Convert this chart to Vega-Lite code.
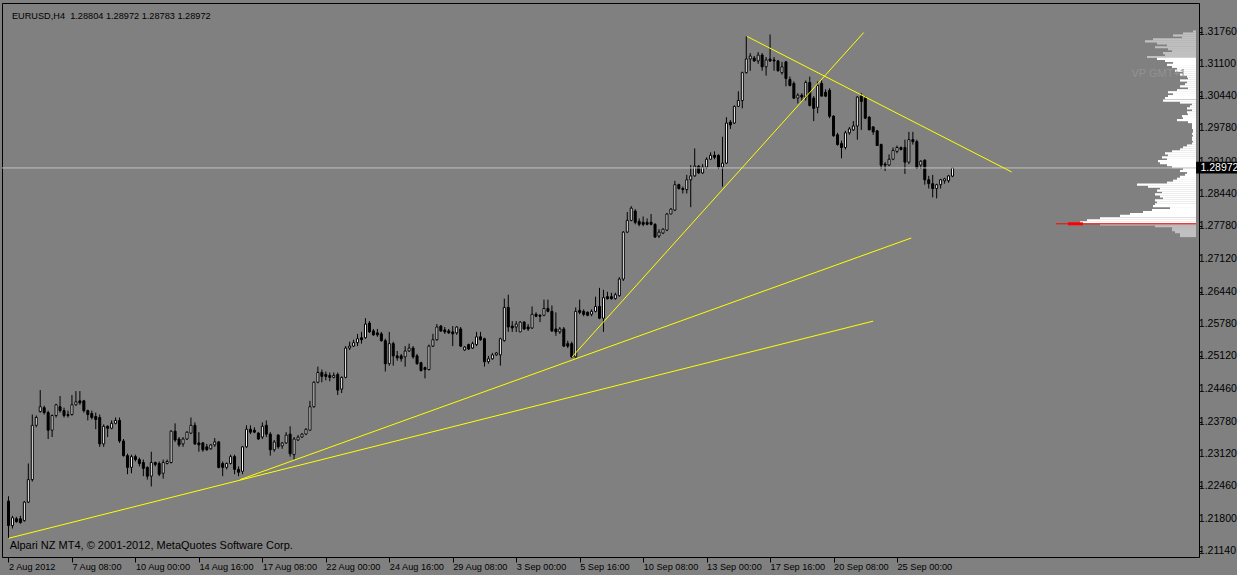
{
"$schema": "https://vega.github.io/schema/vega-lite/v6.json",
"width": 1197,
"height": 554,
"autosize": {"type": "none"},
"padding": {"left": 2, "top": 3, "right": 38, "bottom": 18},
"background": "#808080",
"config": {
  "view": {"stroke": "#000000", "strokeWidth": 1, "fill": "#808080"},
  "font": "Liberation Sans",
  "axis": {"domain": false, "grid": false, "tickColor": "#000000", "labelColor": "#000000", "labelFont": "Liberation Sans", "title": null, "labelOverlap": false, "labelFlush": false, "labelBound": false},
  "axisX": {"labelOverlap": false, "labelFontSize": 9.2}
},
"datasets": {
  "candles": [
{"t":0,"o":1.2216,"h":1.2226,"l":1.2140,"c":1.2166},
{"t":1,"o":1.2166,"h":1.2186,"l":1.2160,"c":1.2182},
{"t":2,"o":1.2180,"h":1.2184,"l":1.2172,"c":1.2174},
{"t":3,"o":1.2180,"h":1.2186,"l":1.2170,"c":1.2172},
{"t":4,"o":1.2176,"h":1.2216,"l":1.2174,"c":1.2214},
{"t":5,"o":1.2214,"h":1.2293,"l":1.2212,"c":1.2260},
{"t":6,"o":1.2260,"h":1.2393,"l":1.2256,"c":1.2371},
{"t":7,"o":1.2371,"h":1.2391,"l":1.2367,"c":1.2387},
{"t":8,"o":1.2399,"h":1.2443,"l":1.2397,"c":1.2409},
{"t":9,"o":1.2407,"h":1.2411,"l":1.2393,"c":1.2397},
{"t":10,"o":1.2397,"h":1.2401,"l":1.2343,"c":1.2361},
{"t":11,"o":1.2361,"h":1.2393,"l":1.2347,"c":1.2391},
{"t":12,"o":1.2391,"h":1.2415,"l":1.2387,"c":1.2413},
{"t":13,"o":1.2409,"h":1.2431,"l":1.2397,"c":1.2401},
{"t":14,"o":1.2401,"h":1.2407,"l":1.2387,"c":1.2391},
{"t":15,"o":1.2393,"h":1.2401,"l":1.2387,"c":1.2391},
{"t":16,"o":1.2393,"h":1.2433,"l":1.2391,"c":1.2413},
{"t":17,"o":1.2413,"h":1.2441,"l":1.2411,"c":1.2419},
{"t":18,"o":1.2421,"h":1.2441,"l":1.2413,"c":1.2417},
{"t":19,"o":1.2421,"h":1.2423,"l":1.2397,"c":1.2401},
{"t":20,"o":1.2401,"h":1.2403,"l":1.2381,"c":1.2393},
{"t":21,"o":1.2395,"h":1.2401,"l":1.2383,"c":1.2387},
{"t":22,"o":1.2389,"h":1.2397,"l":1.2363,"c":1.2383},
{"t":23,"o":1.2387,"h":1.2393,"l":1.2327,"c":1.2333},
{"t":24,"o":1.2333,"h":1.2373,"l":1.2327,"c":1.2369},
{"t":25,"o":1.2369,"h":1.2371,"l":1.2347,"c":1.2365},
{"t":26,"o":1.2365,"h":1.2381,"l":1.2363,"c":1.2375},
{"t":27,"o":1.2375,"h":1.2387,"l":1.2373,"c":1.2381},
{"t":28,"o":1.2381,"h":1.2387,"l":1.2335,"c":1.2339},
{"t":29,"o":1.2339,"h":1.2343,"l":1.2307,"c":1.2309},
{"t":30,"o":1.2309,"h":1.2313,"l":1.2271,"c":1.2285},
{"t":31,"o":1.2285,"h":1.2311,"l":1.2273,"c":1.2307},
{"t":32,"o":1.2307,"h":1.2311,"l":1.2297,"c":1.2301},
{"t":33,"o":1.2301,"h":1.2305,"l":1.2287,"c":1.2293},
{"t":34,"o":1.2295,"h":1.2301,"l":1.2267,"c":1.2283},
{"t":35,"o":1.2285,"h":1.2287,"l":1.2260,"c":1.2267},
{"t":36,"o":1.2267,"h":1.2317,"l":1.2246,"c":1.2295},
{"t":37,"o":1.2295,"h":1.2297,"l":1.2287,"c":1.2291},
{"t":38,"o":1.2293,"h":1.2297,"l":1.2267,"c":1.2271},
{"t":39,"o":1.2273,"h":1.2301,"l":1.2262,"c":1.2295},
{"t":40,"o":1.2293,"h":1.2301,"l":1.2291,"c":1.2297},
{"t":41,"o":1.2295,"h":1.2361,"l":1.2293,"c":1.2359},
{"t":42,"o":1.2359,"h":1.2375,"l":1.2337,"c":1.2341},
{"t":43,"o":1.2343,"h":1.2347,"l":1.2327,"c":1.2331},
{"t":44,"o":1.2333,"h":1.2347,"l":1.2327,"c":1.2343},
{"t":45,"o":1.2343,"h":1.2359,"l":1.2341,"c":1.2357},
{"t":46,"o":1.2355,"h":1.2387,"l":1.2353,"c":1.2371},
{"t":47,"o":1.2371,"h":1.2377,"l":1.2331,"c":1.2333},
{"t":48,"o":1.2335,"h":1.2357,"l":1.2317,"c":1.2331},
{"t":49,"o":1.2335,"h":1.2337,"l":1.2317,"c":1.2321},
{"t":50,"o":1.2327,"h":1.2333,"l":1.2319,"c":1.2321},
{"t":51,"o":1.2323,"h":1.2333,"l":1.2321,"c":1.2331},
{"t":52,"o":1.2331,"h":1.2345,"l":1.2327,"c":1.2337},
{"t":53,"o":1.2337,"h":1.2339,"l":1.2283,"c":1.2285},
{"t":54,"o":1.2293,"h":1.2297,"l":1.2267,"c":1.2285},
{"t":55,"o":1.2285,"h":1.2295,"l":1.2281,"c":1.2293},
{"t":56,"o":1.2293,"h":1.2311,"l":1.2291,"c":1.2307},
{"t":57,"o":1.2307,"h":1.2311,"l":1.2271,"c":1.2281},
{"t":58,"o":1.2281,"h":1.2287,"l":1.2267,"c":1.2275},
{"t":59,"o":1.2277,"h":1.2329,"l":1.2271,"c":1.2327},
{"t":60,"o":1.2327,"h":1.2371,"l":1.2325,"c":1.2363},
{"t":61,"o":1.2363,"h":1.2371,"l":1.2353,"c":1.2357},
{"t":62,"o":1.2361,"h":1.2367,"l":1.2355,"c":1.2357},
{"t":63,"o":1.2355,"h":1.2357,"l":1.2341,"c":1.2343},
{"t":64,"o":1.2347,"h":1.2377,"l":1.2343,"c":1.2369},
{"t":65,"o":1.2371,"h":1.2381,"l":1.2347,"c":1.2353},
{"t":66,"o":1.2353,"h":1.2357,"l":1.2309,"c":1.2321},
{"t":67,"o":1.2321,"h":1.2341,"l":1.2317,"c":1.2337},
{"t":68,"o":1.2351,"h":1.2353,"l":1.2323,"c":1.2327},
{"t":69,"o":1.2329,"h":1.2337,"l":1.2323,"c":1.2335},
{"t":70,"o":1.2335,"h":1.2357,"l":1.2333,"c":1.2351},
{"t":71,"o":1.2353,"h":1.2369,"l":1.2307,"c":1.2313},
{"t":72,"o":1.2311,"h":1.2347,"l":1.2301,"c":1.2343},
{"t":73,"o":1.2341,"h":1.2351,"l":1.2339,"c":1.2347},
{"t":74,"o":1.2347,"h":1.2355,"l":1.2345,"c":1.2353},
{"t":75,"o":1.2353,"h":1.2365,"l":1.2351,"c":1.2363},
{"t":76,"o":1.2361,"h":1.2421,"l":1.2361,"c":1.2409},
{"t":77,"o":1.2409,"h":1.2461,"l":1.2407,"c":1.2459},
{"t":78,"o":1.2459,"h":1.2491,"l":1.2457,"c":1.2479},
{"t":79,"o":1.2479,"h":1.2485,"l":1.2459,"c":1.2471},
{"t":80,"o":1.2475,"h":1.2481,"l":1.2463,"c":1.2471},
{"t":81,"o":1.2473,"h":1.2479,"l":1.2461,"c":1.2469},
{"t":82,"o":1.2469,"h":1.2479,"l":1.2467,"c":1.2473},
{"t":83,"o":1.2475,"h":1.2479,"l":1.2433,"c":1.2443},
{"t":84,"o":1.2445,"h":1.2471,"l":1.2437,"c":1.2469},
{"t":85,"o":1.2469,"h":1.2533,"l":1.2467,"c":1.2529},
{"t":86,"o":1.2529,"h":1.2542,"l":1.2525,"c":1.2533},
{"t":87,"o":1.2533,"h":1.2546,"l":1.2531,"c":1.2540},
{"t":88,"o":1.2540,"h":1.2558,"l":1.2533,"c":1.2548},
{"t":89,"o":1.2550,"h":1.2562,"l":1.2538,"c":1.2546},
{"t":90,"o":1.2550,"h":1.2590,"l":1.2548,"c":1.2578},
{"t":91,"o":1.2580,"h":1.2584,"l":1.2560,"c":1.2562},
{"t":92,"o":1.2564,"h":1.2568,"l":1.2554,"c":1.2556},
{"t":93,"o":1.2560,"h":1.2568,"l":1.2552,"c":1.2556},
{"t":94,"o":1.2558,"h":1.2562,"l":1.2542,"c":1.2544},
{"t":95,"o":1.2544,"h":1.2548,"l":1.2481,"c":1.2497},
{"t":96,"o":1.2497,"h":1.2562,"l":1.2493,"c":1.2538},
{"t":97,"o":1.2538,"h":1.2542,"l":1.2493,"c":1.2513},
{"t":98,"o":1.2513,"h":1.2523,"l":1.2503,"c":1.2509},
{"t":99,"o":1.2513,"h":1.2517,"l":1.2501,"c":1.2507},
{"t":100,"o":1.2511,"h":1.2533,"l":1.2491,"c":1.2523},
{"t":101,"o":1.2523,"h":1.2538,"l":1.2521,"c":1.2529},
{"t":102,"o":1.2529,"h":1.2533,"l":1.2507,"c":1.2511},
{"t":103,"o":1.2513,"h":1.2517,"l":1.2495,"c":1.2497},
{"t":104,"o":1.2499,"h":1.2501,"l":1.2481,"c":1.2483},
{"t":105,"o":1.2489,"h":1.2491,"l":1.2467,"c":1.2485},
{"t":106,"o":1.2485,"h":1.2536,"l":1.2483,"c":1.2533},
{"t":107,"o":1.2533,"h":1.2558,"l":1.2531,"c":1.2546},
{"t":108,"o":1.2546,"h":1.2578,"l":1.2544,"c":1.2572},
{"t":109,"o":1.2574,"h":1.2576,"l":1.2562,"c":1.2564},
{"t":110,"o":1.2566,"h":1.2572,"l":1.2558,"c":1.2562},
{"t":111,"o":1.2564,"h":1.2568,"l":1.2558,"c":1.2560},
{"t":112,"o":1.2562,"h":1.2574,"l":1.2533,"c":1.2558},
{"t":113,"o":1.2560,"h":1.2574,"l":1.2556,"c":1.2572},
{"t":114,"o":1.2568,"h":1.2572,"l":1.2531,"c":1.2533},
{"t":115,"o":1.2525,"h":1.2533,"l":1.2523,"c":1.2531},
{"t":116,"o":1.2536,"h":1.2538,"l":1.2525,"c":1.2527},
{"t":117,"o":1.2529,"h":1.2542,"l":1.2527,"c":1.2538},
{"t":118,"o":1.2536,"h":1.2562,"l":1.2533,"c":1.2552},
{"t":119,"o":1.2552,"h":1.2562,"l":1.2544,"c":1.2546},
{"t":120,"o":1.2548,"h":1.2550,"l":1.2491,"c":1.2501},
{"t":121,"o":1.2501,"h":1.2513,"l":1.2497,"c":1.2507},
{"t":122,"o":1.2507,"h":1.2519,"l":1.2505,"c":1.2515},
{"t":123,"o":1.2515,"h":1.2521,"l":1.2513,"c":1.2519},
{"t":124,"o":1.2515,"h":1.2550,"l":1.2493,"c":1.2548},
{"t":125,"o":1.2544,"h":1.2630,"l":1.2542,"c":1.2612},
{"t":126,"o":1.2612,"h":1.2638,"l":1.2562,"c":1.2572},
{"t":127,"o":1.2574,"h":1.2584,"l":1.2562,"c":1.2570},
{"t":128,"o":1.2572,"h":1.2584,"l":1.2562,"c":1.2578},
{"t":129,"o":1.2562,"h":1.2584,"l":1.2562,"c":1.2582},
{"t":130,"o":1.2582,"h":1.2584,"l":1.2566,"c":1.2568},
{"t":131,"o":1.2572,"h":1.2578,"l":1.2564,"c":1.2568},
{"t":132,"o":1.2570,"h":1.2614,"l":1.2568,"c":1.2598},
{"t":133,"o":1.2598,"h":1.2602,"l":1.2592,"c":1.2594},
{"t":134,"o":1.2596,"h":1.2598,"l":1.2582,"c":1.2594},
{"t":135,"o":1.2596,"h":1.2628,"l":1.2594,"c":1.2610},
{"t":136,"o":1.2610,"h":1.2628,"l":1.2602,"c":1.2604},
{"t":137,"o":1.2604,"h":1.2616,"l":1.2562,"c":1.2564},
{"t":138,"o":1.2568,"h":1.2602,"l":1.2554,"c":1.2562},
{"t":139,"o":1.2562,"h":1.2572,"l":1.2558,"c":1.2568},
{"t":140,"o":1.2568,"h":1.2572,"l":1.2531,"c":1.2533},
{"t":141,"o":1.2538,"h":1.2544,"l":1.2529,"c":1.2533},
{"t":142,"o":1.2538,"h":1.2542,"l":1.2509,"c":1.2511},
{"t":143,"o":1.2511,"h":1.2612,"l":1.2509,"c":1.2604},
{"t":144,"o":1.2606,"h":1.2628,"l":1.2598,"c":1.2602},
{"t":145,"o":1.2604,"h":1.2608,"l":1.2594,"c":1.2598},
{"t":146,"o":1.2602,"h":1.2604,"l":1.2594,"c":1.2596},
{"t":147,"o":1.2598,"h":1.2608,"l":1.2594,"c":1.2604},
{"t":148,"o":1.2604,"h":1.2634,"l":1.2602,"c":1.2614},
{"t":149,"o":1.2614,"h":1.2652,"l":1.2588,"c":1.2590},
{"t":150,"o":1.2590,"h":1.2648,"l":1.2562,"c":1.2632},
{"t":151,"o":1.2634,"h":1.2644,"l":1.2628,"c":1.2630},
{"t":152,"o":1.2634,"h":1.2642,"l":1.2628,"c":1.2630},
{"t":153,"o":1.2630,"h":1.2642,"l":1.2628,"c":1.2638},
{"t":154,"o":1.2636,"h":1.2674,"l":1.2634,"c":1.2670},
{"t":155,"o":1.2670,"h":1.2768,"l":1.2666,"c":1.2766},
{"t":156,"o":1.2766,"h":1.2807,"l":1.2764,"c":1.2790},
{"t":157,"o":1.2790,"h":1.2819,"l":1.2788,"c":1.2815},
{"t":158,"o":1.2809,"h":1.2813,"l":1.2782,"c":1.2786},
{"t":159,"o":1.2788,"h":1.2794,"l":1.2778,"c":1.2782},
{"t":160,"o":1.2786,"h":1.2798,"l":1.2778,"c":1.2782},
{"t":161,"o":1.2786,"h":1.2794,"l":1.2780,"c":1.2782},
{"t":162,"o":1.2786,"h":1.2803,"l":1.2780,"c":1.2782},
{"t":163,"o":1.2782,"h":1.2784,"l":1.2754,"c":1.2756},
{"t":164,"o":1.2758,"h":1.2772,"l":1.2754,"c":1.2766},
{"t":165,"o":1.2764,"h":1.2774,"l":1.2762,"c":1.2772},
{"t":166,"o":1.2770,"h":1.2805,"l":1.2768,"c":1.2803},
{"t":167,"o":1.2803,"h":1.2815,"l":1.2803,"c":1.2813},
{"t":168,"o":1.2811,"h":1.2871,"l":1.2809,"c":1.2863},
{"t":169,"o":1.2863,"h":1.2865,"l":1.2853,"c":1.2855},
{"t":170,"o":1.2855,"h":1.2859,"l":1.2845,"c":1.2853},
{"t":171,"o":1.2853,"h":1.2883,"l":1.2845,"c":1.2873},
{"t":172,"o":1.2873,"h":1.2903,"l":1.2817,"c":1.2881},
{"t":173,"o":1.2881,"h":1.2937,"l":1.2879,"c":1.2901},
{"t":174,"o":1.2901,"h":1.2903,"l":1.2885,"c":1.2887},
{"t":175,"o":1.2887,"h":1.2905,"l":1.2885,"c":1.2899},
{"t":176,"o":1.2899,"h":1.2919,"l":1.2895,"c":1.2915},
{"t":177,"o":1.2915,"h":1.2929,"l":1.2915,"c":1.2923},
{"t":178,"o":1.2923,"h":1.2931,"l":1.2915,"c":1.2919},
{"t":179,"o":1.2923,"h":1.2925,"l":1.2895,"c":1.2899},
{"t":180,"o":1.2899,"h":1.2961,"l":1.2859,"c":1.2907},
{"t":181,"o":1.2907,"h":1.3001,"l":1.2905,"c":1.2989},
{"t":182,"o":1.2991,"h":1.2995,"l":1.2977,"c":1.2985},
{"t":183,"o":1.2989,"h":1.3025,"l":1.2987,"c":1.3023},
{"t":184,"o":1.3023,"h":1.3054,"l":1.3023,"c":1.3035},
{"t":185,"o":1.3035,"h":1.3094,"l":1.3019,"c":1.3092},
{"t":186,"o":1.3092,"h":1.3166,"l":1.3090,"c":1.3120},
{"t":187,"o":1.3120,"h":1.3132,"l":1.3096,"c":1.3126},
{"t":188,"o":1.3122,"h":1.3126,"l":1.3114,"c":1.3116},
{"t":189,"o":1.3116,"h":1.3134,"l":1.3110,"c":1.3128},
{"t":190,"o":1.3128,"h":1.3132,"l":1.3096,"c":1.3104},
{"t":191,"o":1.3104,"h":1.3124,"l":1.3086,"c":1.3118},
{"t":192,"o":1.3120,"h":1.3170,"l":1.3114,"c":1.3116},
{"t":193,"o":1.3118,"h":1.3124,"l":1.3096,"c":1.3116},
{"t":194,"o":1.3116,"h":1.3118,"l":1.3094,"c":1.3096},
{"t":195,"o":1.3092,"h":1.3114,"l":1.3088,"c":1.3104},
{"t":196,"o":1.3114,"h":1.3116,"l":1.3064,"c":1.3080},
{"t":197,"o":1.3078,"h":1.3084,"l":1.3064,"c":1.3066},
{"t":198,"o":1.3070,"h":1.3074,"l":1.3038,"c":1.3040},
{"t":199,"o":1.3040,"h":1.3050,"l":1.3029,"c":1.3046},
{"t":200,"o":1.3046,"h":1.3050,"l":1.3035,"c":1.3042},
{"t":201,"o":1.3042,"h":1.3076,"l":1.3035,"c":1.3072},
{"t":202,"o":1.3072,"h":1.3084,"l":1.3023,"c":1.3025},
{"t":203,"o":1.3040,"h":1.3044,"l":1.2993,"c":1.3019},
{"t":204,"o":1.3021,"h":1.3074,"l":1.3009,"c":1.3066},
{"t":205,"o":1.3070,"h":1.3076,"l":1.3044,"c":1.3044},
{"t":206,"o":1.3052,"h":1.3058,"l":1.3042,"c":1.3044},
{"t":207,"o":1.3056,"h":1.3060,"l":1.2999,"c":1.3003},
{"t":208,"o":1.3003,"h":1.3005,"l":1.2961,"c":1.2963},
{"t":209,"o":1.2965,"h":1.2969,"l":1.2943,"c":1.2945},
{"t":210,"o":1.2947,"h":1.2953,"l":1.2917,"c":1.2939},
{"t":211,"o":1.2939,"h":1.2973,"l":1.2935,"c":1.2969},
{"t":212,"o":1.2969,"h":1.2981,"l":1.2965,"c":1.2977},
{"t":213,"o":1.2975,"h":1.2993,"l":1.2973,"c":1.2983},
{"t":214,"o":1.2983,"h":1.3044,"l":1.2955,"c":1.3042},
{"t":215,"o":1.3044,"h":1.3050,"l":1.2975,"c":1.3033},
{"t":216,"o":1.3040,"h":1.3044,"l":1.2997,"c":1.2999},
{"t":217,"o":1.3001,"h":1.3003,"l":1.2975,"c":1.2975},
{"t":218,"o":1.2981,"h":1.2983,"l":1.2965,"c":1.2971},
{"t":219,"o":1.2973,"h":1.2975,"l":1.2943,"c":1.2943},
{"t":220,"o":1.2945,"h":1.2947,"l":1.2895,"c":1.2903},
{"t":221,"o":1.2905,"h":1.2909,"l":1.2891,"c":1.2903},
{"t":222,"o":1.2903,"h":1.2925,"l":1.2901,"c":1.2915},
{"t":223,"o":1.2915,"h":1.2939,"l":1.2913,"c":1.2933},
{"t":224,"o":1.2931,"h":1.2943,"l":1.2927,"c":1.2939},
{"t":225,"o":1.2939,"h":1.2941,"l":1.2933,"c":1.2935},
{"t":226,"o":1.2939,"h":1.2955,"l":1.2885,"c":1.2909},
{"t":227,"o":1.2909,"h":1.2971,"l":1.2905,"c":1.2955},
{"t":228,"o":1.2955,"h":1.2971,"l":1.2945,"c":1.2951},
{"t":229,"o":1.2951,"h":1.2955,"l":1.2895,"c":1.2897},
{"t":230,"o":1.2903,"h":1.2913,"l":1.2895,"c":1.2911},
{"t":231,"o":1.2913,"h":1.2915,"l":1.2863,"c":1.2873},
{"t":232,"o":1.2873,"h":1.2881,"l":1.2855,"c":1.2865},
{"t":233,"o":1.2865,"h":1.2883,"l":1.2837,"c":1.2855},
{"t":234,"o":1.2855,"h":1.2865,"l":1.2835,"c":1.2863},
{"t":235,"o":1.2863,"h":1.2875,"l":1.2855,"c":1.2873},
{"t":236,"o":1.2871,"h":1.2877,"l":1.2865,"c":1.2875},
{"t":237,"o":1.2871,"h":1.2883,"l":1.2867,"c":1.2881},
{"t":238,"o":1.28804,"h":1.28972,"l":1.28783,"c":1.28972}
  ],
  "trend": [
    {"g":"a","t":0,"p":1.2140},{"g":"a","t":218,"p":1.2584},
    {"g":"b","t":58.4,"p":1.2260},{"g":"b","t":227.6,"p":1.2754},
    {"g":"c","t":142.1,"p":1.2511},{"g":"c","t":215.6,"p":1.3174},
    {"g":"d","t":186.2,"p":1.3166},{"g":"d","t":252.9,"p":1.2889}
  ],
  "profile": [
{"p":1.3176,"v":3,"z":"outside"},{"p":1.3172,"v":13,"z":"outside"},{"p":1.3168,"v":23,"z":"outside"},{"p":1.3164,"v":14,"z":"outside"},
{"p":1.3160,"v":43,"z":"outside"},{"p":1.3156,"v":51,"z":"outside"},{"p":1.3152,"v":39,"z":"outside"},{"p":1.3148,"v":29,"z":"outside"},
{"p":1.3144,"v":41,"z":"outside"},{"p":1.3140,"v":28,"z":"outside"},{"p":1.3136,"v":24,"z":"outside"},{"p":1.3132,"v":33,"z":"outside"},
{"p":1.3128,"v":31,"z":"outside"},{"p":1.3124,"v":49,"z":"outside"},
{"p":1.3120,"v":39,"z":"value"},{"p":1.3116,"v":31,"z":"value"},{"p":1.3112,"v":23,"z":"value"},{"p":1.3108,"v":29,"z":"value"},
{"p":1.3104,"v":24,"z":"value"},{"p":1.3100,"v":19,"z":"value"},{"p":1.3096,"v":21,"z":"value"},{"p":1.3092,"v":13,"z":"value"},
{"p":1.3088,"v":16,"z":"value"},{"p":1.3084,"v":9,"z":"value"},{"p":1.3080,"v":8,"z":"value"},{"p":1.3076,"v":16,"z":"value"},
{"p":1.3072,"v":9,"z":"value"},{"p":1.3068,"v":11,"z":"value"},{"p":1.3064,"v":16,"z":"value"},{"p":1.3060,"v":8,"z":"value"},
{"p":1.3056,"v":19,"z":"value"},{"p":1.3052,"v":28,"z":"value"},{"p":1.3048,"v":23,"z":"value"},{"p":1.3044,"v":28,"z":"value"},
{"p":1.3040,"v":31,"z":"value"},{"p":1.3035,"v":33,"z":"value"},{"p":1.3031,"v":16,"z":"value"},{"p":1.3027,"v":4,"z":"value"},
{"p":1.3023,"v":6,"z":"value"},{"p":1.3019,"v":9,"z":"value"},{"p":1.3015,"v":4,"z":"value"},{"p":1.3011,"v":9,"z":"value"},
{"p":1.3007,"v":8,"z":"value"},{"p":1.3003,"v":14,"z":"value"},{"p":1.2999,"v":13,"z":"value"},{"p":1.2995,"v":19,"z":"value"},
{"p":1.2991,"v":8,"z":"value"},{"p":1.2987,"v":4,"z":"value"},{"p":1.2983,"v":4,"z":"value"},{"p":1.2979,"v":4,"z":"value"},
{"p":1.2975,"v":3,"z":"value"},{"p":1.2971,"v":3,"z":"value"},{"p":1.2967,"v":4,"z":"value"},{"p":1.2963,"v":3,"z":"value"},
{"p":1.2959,"v":4,"z":"value"},{"p":1.2955,"v":4,"z":"value"},{"p":1.2951,"v":3,"z":"value"},{"p":1.2947,"v":4,"z":"value"},
{"p":1.2943,"v":9,"z":"value"},{"p":1.2939,"v":13,"z":"value"},{"p":1.2935,"v":16,"z":"value"},{"p":1.2931,"v":24,"z":"value"},
{"p":1.2927,"v":31,"z":"value"},{"p":1.2923,"v":28,"z":"value"},{"p":1.2919,"v":34,"z":"value"},{"p":1.2915,"v":29,"z":"value"},
{"p":1.2911,"v":38,"z":"value"},{"p":1.2907,"v":36,"z":"value"},{"p":1.2903,"v":29,"z":"value"},{"p":1.2899,"v":24,"z":"value"},
{"p":1.2895,"v":13,"z":"value"},{"p":1.2891,"v":16,"z":"value"},{"p":1.2887,"v":9,"z":"value"},{"p":1.2883,"v":11,"z":"value"},
{"p":1.2879,"v":16,"z":"value"},{"p":1.2875,"v":19,"z":"value"},{"p":1.2871,"v":23,"z":"value"},{"p":1.2867,"v":29,"z":"value"},
{"p":1.2863,"v":59,"z":"value"},{"p":1.2859,"v":48,"z":"value"},{"p":1.2855,"v":36,"z":"value"},{"p":1.2851,"v":39,"z":"value"},
{"p":1.2847,"v":34,"z":"value"},{"p":1.2843,"v":41,"z":"value"},{"p":1.2839,"v":36,"z":"value"},{"p":1.2835,"v":33,"z":"value"},
{"p":1.2831,"v":41,"z":"value"},{"p":1.2827,"v":39,"z":"value"},{"p":1.2823,"v":41,"z":"value"},{"p":1.2819,"v":43,"z":"value"},
{"p":1.2815,"v":26,"z":"value"},{"p":1.2811,"v":44,"z":"value"},{"p":1.2807,"v":53,"z":"value"},{"p":1.2803,"v":66,"z":"value"},
{"p":1.2799,"v":76,"z":"value"},{"p":1.2794,"v":96,"z":"value"},{"p":1.2790,"v":109,"z":"value"},{"p":1.2786,"v":116,"z":"value"},
{"p":1.2782,"v":96,"z":"outside"},{"p":1.2778,"v":41,"z":"outside"},{"p":1.2774,"v":24,"z":"outside"},{"p":1.2770,"v":24,"z":"outside"},
{"p":1.2766,"v":21,"z":"outside"},{"p":1.2762,"v":16,"z":"outside"},{"p":1.2758,"v":16,"z":"outside"}
  ],
  "vpoc": [{"p":1.2783,"v":140}],
  "yticks": [{"v":1.2114},{"v":1.218},{"v":1.2246},{"v":1.2312},{"v":1.2378},{"v":1.2446},{"v":1.2512},{"v":1.2578},{"v":1.2644},{"v":1.2712},{"v":1.2778},{"v":1.2844},{"v":1.291},{"v":1.2978},{"v":1.3044},{"v":1.311},{"v":1.3176}]
},
"resolve": {"scale": {"x": "independent"}},
"layer": [
  {
    "layer": [
      {
        "data": {"name": "profile"},
        "mark": {"type": "bar", "orient": "horizontal", "size": 2.2},
        "encoding": {
          "y": {"field": "p", "type": "quantitative", "scale": {"domain": [1.2112, 1.32242], "nice": false, "zero": false},
                "axis": {"orient": "right", "values": [1.2114, 1.218, 1.2246, 1.2312, 1.2378, 1.2446, 1.2512, 1.2578, 1.2644, 1.2712, 1.2778, 1.2844, 1.291, 1.2978, 1.3044, 1.311, 1.3176],
                         "labels": false, "tickSize": 3}},
          "x": {"field": "v", "type": "quantitative", "scale": {"domain": [-3, 1194], "reverse": true, "nice": false, "zero": false}, "axis": null},
          "color": {"field": "z", "type": "nominal", "scale": {"domain": ["outside", "value"], "range": ["#c0c0c0", "#ffffff"]}, "legend": null}
        }
      },
      {
        "data": {"name": "vpoc"},
        "mark": {"type": "rule", "color": "#ff0000", "strokeWidth": 1},
        "encoding": {
          "y": {"field": "p", "type": "quantitative"},
          "x": {"field": "v", "type": "quantitative"},
          "x2": {"datum": 0}
        }
      },
      {
        "data": {"name": "vpoc"},
        "mark": {"type": "bar", "orient": "horizontal", "size": 3, "color": "#ff0000"},
        "encoding": {
          "y": {"field": "p", "type": "quantitative"},
          "x": {"datum": 113, "type": "quantitative"},
          "x2": {"datum": 128}
        }
      }
    ]
  },
  {
    "layer": [
      {
        "data": {"name": "candles"},
        "mark": {"type": "rule", "color": "#000000", "strokeWidth": 1},
        "encoding": {
          "x": {"field": "t", "type": "quantitative", "scale": {"domain": [-0.375, 298.875], "nice": false, "zero": false},
                "axis": {"orient": "bottom", "values": [0,16,32,48,64,80,96,112,128,144,160,176,192,208,224],
                         "labelExpr": "['2 Aug 2012','7 Aug 08:00','10 Aug 00:00','14 Aug 16:00','17 Aug 08:00','22 Aug 00:00','24 Aug 16:00','29 Aug 08:00','3 Sep 00:00','5 Sep 16:00','10 Sep 08:00','13 Sep 00:00','17 Sep 16:00','20 Sep 08:00','25 Sep 00:00'][round(datum.value/16)]",
                         "labelAlign": "left", "labelBaseline": "top", "labelOffset": 0, "labelPadding": 0, "tickSize": 5,
                         "labelOverlap": false, "labelFlush": false, "labelBound": false}},
          "y": {"field": "l", "type": "quantitative", "scale": {"domain": [1.2112, 1.32242], "nice": false, "zero": false}},
          "y2": {"field": "h"}
        }
      },
      {
        "data": {"name": "candles"},
        "mark": {"type": "bar", "orient": "vertical", "size": 2, "stroke": "#000000", "strokeWidth": 1},
        "encoding": {
          "x": {"field": "t", "type": "quantitative"},
          "y": {"field": "o", "type": "quantitative"},
          "y2": {"field": "c"},
          "fill": {"condition": {"test": "datum.c >= datum.o", "value": "#ffffff"}, "value": "#000000"}
        }
      },
      {
        "data": {"values": [{}]},
        "mark": {"type": "rule", "color": "#c0c0c0", "strokeWidth": 1},
        "encoding": {"y": {"datum": 1.28972, "type": "quantitative"}}
      },
      {
        "data": {"name": "trend"},
        "mark": {"type": "line", "color": "#ffff00", "strokeWidth": 1},
        "encoding": {
          "x": {"field": "t", "type": "quantitative"},
          "y": {"field": "p", "type": "quantitative"},
          "detail": {"field": "g", "type": "nominal"}
        }
      },
      {
        "data": {"name": "yticks"},
        "mark": {"type": "text", "align": "left", "baseline": "middle", "color": "#000000", "font": "Liberation Sans", "fontSize": 10.5},
        "encoding": {
          "x": {"datum": 300.1, "type": "quantitative"},
          "y": {"field": "v", "type": "quantitative"},
          "text": {"field": "v", "type": "quantitative", "format": ".5f"}
        }
      },
      {
        "data": {"values": [{}]},
        "mark": {"type": "rect", "color": "#000000"},
        "encoding": {
          "x": {"datum": 299.4, "type": "quantitative"},
          "x2": {"datum": 310},
          "y": {"datum": 1.2910, "type": "quantitative"},
          "y2": {"datum": 1.2886}
        }
      },
      {
        "data": {"values": [{}]},
        "mark": {"type": "text", "align": "left", "baseline": "middle", "color": "#ffffff", "font": "Liberation Sans", "fontSize": 10.5},
        "encoding": {
          "x": {"datum": 300.5, "type": "quantitative"},
          "y": {"datum": 1.28972, "type": "quantitative"},
          "text": {"value": "1.28972"}
        }
      },
      {
        "data": {"values": [{}]},
        "mark": {"type": "text", "align": "left", "baseline": "middle", "color": "#000000", "font": "Liberation Sans", "fontSize": 9.2},
        "encoding": {
          "x": {"datum": 0.875, "type": "quantitative"},
          "y": {"datum": 1.3208, "type": "quantitative"},
          "text": {"value": "EURUSD,H4\u00a0 1.28804 1.28972 1.28783 1.28972"}
        }
      },
      {
        "data": {"values": [{}]},
        "mark": {"type": "text", "align": "left", "baseline": "middle", "color": "#000000", "font": "Liberation Sans", "fontSize": 11},
        "encoding": {
          "x": {"datum": 0.3, "type": "quantitative"},
          "y": {"datum": 1.2124, "type": "quantitative"},
          "text": {"value": "Alpari NZ MT4, © 2001-2012, MetaQuotes Software Corp."}
        }
      },
      {
        "data": {"values": [{}]},
        "mark": {"type": "text", "align": "left", "baseline": "middle", "color": "#929292", "font": "Liberation Sans", "fontSize": 11},
        "encoding": {
          "x": {"datum": 283.1, "type": "quantitative"},
          "y": {"datum": 1.3090, "type": "quantitative"},
          "text": {"value": "VP GMT+1"}
        }
      }
    ]
  }
]
}
